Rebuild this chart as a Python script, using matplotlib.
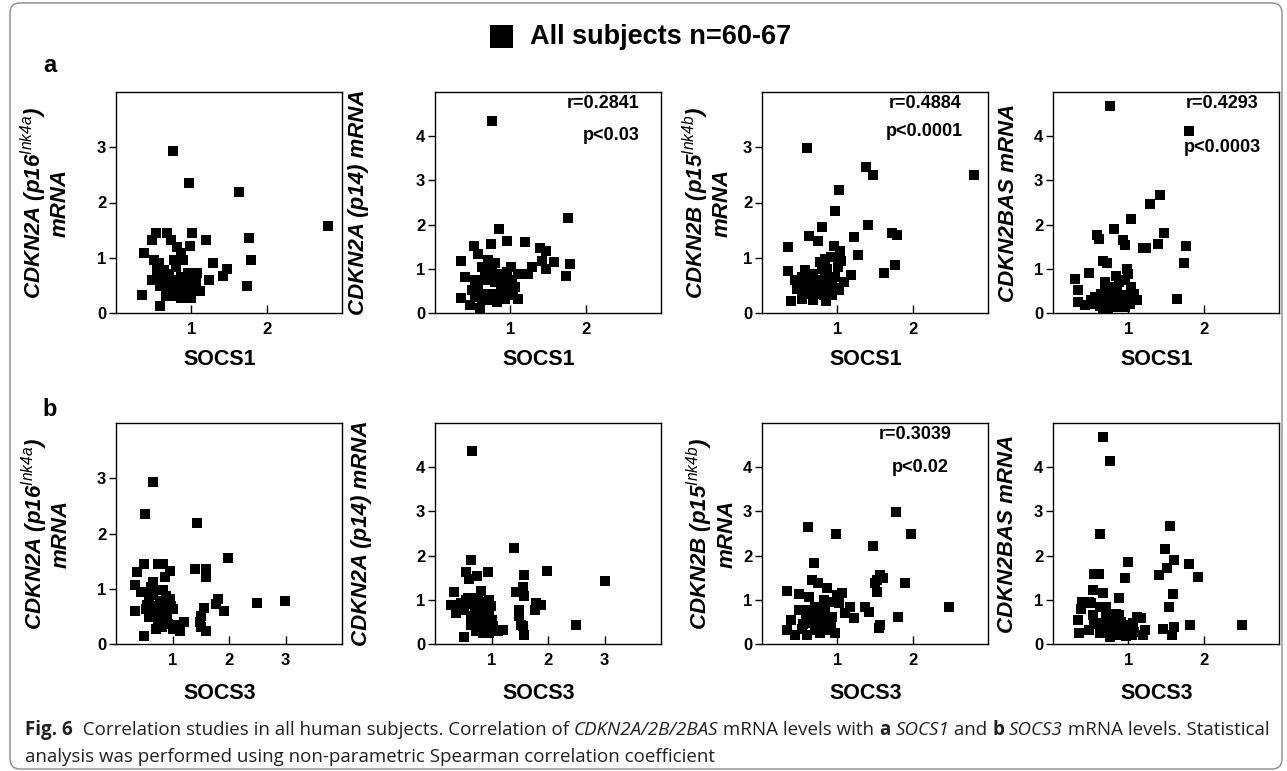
import numpy as np
import matplotlib
matplotlib.use("Agg")
import matplotlib.pyplot as plt
from matplotlib.patches import FancyBboxPatch, Rectangle
from matplotlib.transforms import IdentityTransform

plt.rcParams['font.family'] = ['Liberation Sans', 'DejaVu Sans']
plt.rcParams['mathtext.fontset'] = 'custom'
plt.rcParams['mathtext.it'] = 'Liberation Sans:italic'
plt.rcParams['mathtext.rm'] = 'Liberation Sans:italic'

# ---- data: (SOCS, CDKN) pairs per panel ----
a_socs1_p16 = [
    (0.76, 2.93), (0.97, 2.36), (1.63, 2.19), (1.76, 1.35), (1.79, 0.96), (1.74, 0.48),
    (1.01, 1.45), (1.20, 1.32), (0.98, 1.22), (1.29, 0.90), (1.48, 0.79), (1.42, 0.67),
    (1.23, 0.60), (1.11, 0.40), (1.00, 0.28), (0.35, 0.33), (0.59, 0.13), (0.37, 1.09),
    (0.48, 1.32), (0.53, 1.44), (0.68, 1.44), (0.73, 1.32), (0.81, 1.20), (0.86, 1.08),
    (0.89, 0.96), (0.79, 0.84), (0.51, 0.96), (0.55, 0.84), (0.48, 0.60), (0.55, 0.72),
    (0.64, 0.78), (0.68, 0.60), (0.59, 0.48), (0.77, 0.42), (0.73, 0.30), (0.86, 0.27),
    (0.81, 0.42), (0.93, 0.42), (0.97, 0.60), (1.04, 0.72), (1.08, 0.72), (0.95, 0.72),
    (0.86, 0.66), (0.77, 0.60), (0.68, 0.42), (0.93, 0.48), (1.06, 0.57), (0.86, 0.48),
    (1.01, 0.39), (0.66, 0.30), (0.59, 0.66), (0.57, 0.90), (0.77, 0.96), (2.81, 1.57),
    (0.62, 0.55), (0.83, 0.35), (0.90, 0.55), (0.70, 0.70), (0.95, 0.30), (1.05, 0.50),
]
a_socs1_p14 = [
    (0.76, 4.34), (1.77, 2.16), (0.85, 1.89), (0.96, 1.64), (1.19, 1.61), (0.74, 1.57),
    (0.52, 1.52), (1.39, 1.46), (1.48, 1.40), (1.42, 1.17), (1.58, 1.15), (1.79, 1.10),
    (1.48, 1.00), (1.29, 1.03), (1.23, 0.89), (1.74, 0.84), (1.01, 1.03), (1.10, 0.89),
    (0.35, 1.18), (0.57, 1.34), (0.40, 0.81), (0.35, 0.35), (0.46, 0.19), (0.60, 0.12),
    (1.10, 0.31), (0.71, 1.19), (0.79, 1.12), (0.66, 0.97), (0.53, 0.74), (0.49, 0.51),
    (0.62, 0.74), (0.73, 0.89), (0.84, 0.89), (0.93, 0.81), (1.02, 0.74), (0.97, 0.59),
    (1.04, 0.51), (0.88, 0.51), (0.66, 0.44), (0.71, 0.29), (0.82, 0.25), (0.93, 0.32),
    (0.99, 0.40), (0.60, 0.44), (0.57, 0.59), (0.79, 0.70), (0.71, 0.74), (0.88, 0.66),
    (0.77, 0.44), (0.62, 1.04), (0.75, 1.00), (0.95, 0.93), (1.06, 0.59), (0.86, 0.40),
    (0.53, 0.36), (0.68, 0.82), (0.90, 0.60), (0.63, 0.30),
]
a_socs1_p15 = [
    (0.60, 2.99), (1.38, 2.64), (1.47, 2.50), (1.02, 2.22), (0.97, 1.84), (1.41, 1.60),
    (0.80, 1.55), (0.62, 1.40), (0.74, 1.31), (1.22, 1.37), (1.73, 1.45), (1.79, 1.42),
    (1.28, 1.05), (1.76, 0.86), (1.62, 0.73), (0.34, 1.20), (0.34, 0.76), (0.38, 0.22),
    (0.53, 0.26), (0.68, 0.23), (0.85, 0.22), (0.95, 1.22), (1.04, 1.13), (0.92, 1.01),
    (1.01, 0.83), (0.77, 0.92), (0.84, 0.98), (1.18, 0.69), (1.09, 0.56), (1.02, 0.41),
    (0.93, 0.47), (0.57, 0.77), (0.44, 0.59), (0.46, 0.44), (0.55, 0.53), (0.62, 0.65),
    (0.68, 0.71), (0.75, 0.59), (0.84, 0.65), (0.90, 0.59), (0.84, 0.41), (0.75, 0.35),
    (0.66, 0.35), (0.57, 0.35), (0.77, 0.47), (0.66, 0.53), (0.97, 0.65), (0.86, 0.80),
    (0.71, 0.41), (0.93, 0.32), (0.53, 0.65), (0.82, 0.32), (2.81, 2.50), (0.70, 0.60),
    (0.88, 0.50), (0.62, 0.45), (0.95, 0.45), (0.80, 0.80), (1.05, 0.95),
]
a_socs1_bas = [
    (0.76, 4.68), (1.80, 4.12), (1.42, 2.66), (1.29, 2.46), (1.03, 2.12), (0.81, 1.89),
    (0.59, 1.76), (0.61, 1.68), (0.93, 1.66), (0.96, 1.53), (1.47, 1.82), (1.39, 1.55),
    (1.20, 1.47), (1.24, 1.48), (1.77, 1.52), (1.74, 1.13), (1.64, 0.32), (0.29, 0.76),
    (0.48, 0.91), (0.33, 0.51), (0.67, 1.18), (0.72, 1.12), (0.98, 1.00), (1.00, 0.89),
    (0.84, 0.83), (0.87, 0.70), (0.69, 0.70), (0.96, 0.74), (1.04, 0.59), (1.11, 0.29),
    (0.33, 0.25), (0.42, 0.17), (0.56, 0.36), (0.69, 0.51), (0.67, 0.10), (0.82, 0.14),
    (0.96, 0.14), (0.87, 0.36), (0.78, 0.44), (0.73, 0.29), (1.00, 0.32), (1.07, 0.44),
    (0.51, 0.29), (0.60, 0.25), (0.80, 0.59), (0.64, 0.44), (0.91, 0.25), (0.73, 0.10),
    (0.70, 0.20), (0.85, 0.50), (0.95, 0.40), (0.62, 0.15), (0.78, 0.25), (1.02, 0.20),
    (0.55, 0.20), (0.90, 0.30),
]
b_socs3_p16 = [
    (0.65, 2.93), (0.52, 2.35), (1.43, 2.19), (1.99, 1.56), (2.99, 0.77), (2.49, 0.74),
    (0.49, 1.45), (0.37, 1.31), (0.34, 1.07), (0.44, 0.95), (0.33, 0.60), (0.50, 0.15),
    (0.70, 0.27), (0.74, 1.45), (0.84, 1.45), (0.95, 1.33), (0.87, 1.21), (0.65, 1.12),
    (0.65, 0.94), (0.83, 0.97), (0.95, 0.81), (0.98, 0.69), (0.77, 0.78), (0.59, 0.78),
    (0.53, 0.63), (0.68, 0.63), (0.71, 0.48), (0.86, 0.51), (0.92, 0.36), (1.01, 0.27),
    (1.13, 0.24), (1.21, 0.39), (0.71, 0.69), (0.77, 0.60), (0.89, 0.63), (1.39, 1.35),
    (1.59, 1.36), (1.60, 1.21), (1.81, 0.81), (1.77, 0.72), (1.91, 0.60), (1.55, 0.66),
    (1.51, 0.51), (1.48, 0.39), (1.51, 0.30), (1.60, 0.24), (0.59, 0.48), (0.83, 0.45),
    (0.65, 0.51), (1.01, 0.63), (0.89, 0.87), (0.62, 1.03), (0.71, 0.97), (0.80, 0.69),
    (0.75, 0.40), (0.90, 0.55), (0.55, 0.70), (1.05, 0.35), (0.60, 0.88), (0.82, 0.30),
]
b_socs3_p14 = [
    (0.65, 4.36), (1.39, 2.17), (0.64, 1.91), (0.54, 1.64), (0.61, 1.48), (0.74, 1.53),
    (0.94, 1.62), (1.58, 1.57), (1.98, 1.66), (3.00, 1.42), (2.50, 0.44), (0.33, 1.18),
    (0.29, 0.89), (0.37, 0.70), (0.51, 0.16), (0.46, 0.93), (0.58, 1.04), (0.81, 1.21),
    (0.76, 1.04), (0.96, 1.00), (0.99, 0.85), (0.87, 0.85), (0.70, 0.85), (0.52, 0.78),
    (0.64, 0.63), (0.78, 0.70), (0.90, 0.66), (0.81, 0.55), (0.64, 0.44), (0.76, 0.36),
    (0.85, 0.25), (0.96, 0.26), (1.11, 0.29), (1.21, 0.32), (1.02, 0.40), (1.43, 1.17),
    (1.55, 1.30), (1.58, 1.09), (1.49, 0.63), (1.52, 0.44), (1.58, 0.21), (1.79, 0.93),
    (1.88, 0.89), (1.77, 0.76), (1.49, 0.78), (1.55, 0.40), (0.87, 0.47), (0.70, 0.63),
    (0.46, 0.78), (0.73, 0.29), (0.90, 0.96), (0.60, 0.90), (0.80, 0.80), (0.95, 0.70),
    (0.68, 0.50), (1.00, 0.55), (0.55, 1.00), (0.85, 0.95), (0.90, 0.60),
]
b_socs3_p15 = [
    (1.78, 2.99), (1.98, 2.50), (0.61, 2.64), (0.98, 2.50), (1.47, 2.22), (0.69, 1.84),
    (0.67, 1.45), (0.74, 1.37), (1.56, 1.56), (1.50, 1.37), (1.90, 1.37), (1.53, 1.18),
    (0.33, 1.20), (0.49, 1.12), (2.48, 0.84), (1.06, 1.15), (0.86, 1.26), (0.62, 1.06),
    (0.95, 0.96), (1.17, 0.84), (1.22, 0.58), (1.02, 0.92), (0.38, 0.54), (0.33, 0.32),
    (0.49, 0.77), (0.58, 0.54), (0.44, 0.20), (0.60, 0.20), (0.71, 0.32), (0.84, 0.47),
    (0.93, 0.62), (0.97, 0.24), (0.75, 0.69), (0.84, 0.77), (0.71, 0.84), (0.62, 0.77),
    (0.66, 0.47), (0.86, 0.32), (0.77, 0.24), (0.91, 0.47), (0.75, 0.47), (0.53, 0.35),
    (1.52, 1.45), (1.37, 0.84), (1.42, 0.73), (1.81, 0.62), (1.57, 0.43), (1.55, 0.36),
    (1.60, 1.50), (1.00, 1.10), (0.80, 0.60), (0.68, 0.60), (0.90, 0.35), (0.55, 0.45),
    (1.10, 0.70), (0.82, 1.00),
]
b_socs3_bas = [
    (0.66, 4.69), (0.75, 4.14), (0.62, 2.50), (1.55, 2.68), (1.49, 2.16), (1.60, 1.91),
    (1.80, 1.80), (1.92, 1.52), (1.51, 1.71), (1.41, 1.56), (1.00, 1.86), (0.96, 1.50),
    (1.59, 1.12), (1.54, 0.83), (1.46, 0.35), (1.60, 0.39), (1.58, 0.20), (1.82, 0.44),
    (2.51, 0.44), (0.55, 1.59), (0.61, 1.58), (0.53, 1.22), (0.67, 1.16), (0.88, 1.05),
    (0.38, 0.95), (0.37, 0.80), (0.48, 0.95), (0.33, 0.54), (0.35, 0.26), (0.53, 0.65),
    (0.63, 0.84), (0.71, 0.69), (0.79, 0.62), (0.88, 0.65), (0.79, 0.43), (0.71, 0.32),
    (0.84, 0.20), (0.97, 0.17), (1.00, 0.35), (1.06, 0.47), (1.17, 0.58), (1.22, 0.32),
    (1.20, 0.20), (0.48, 0.32), (0.62, 0.24), (0.62, 0.47), (0.73, 0.54), (0.93, 0.43),
    (1.08, 0.28), (0.88, 0.32), (0.50, 0.92), (0.71, 0.83), (0.84, 0.69), (1.11, 0.62),
    (0.90, 0.50), (0.55, 0.45), (1.05, 0.20), (0.75, 0.15),
]

panel_data = [[a_socs1_p16, a_socs1_p14, a_socs1_p15, a_socs1_bas],
              [b_socs3_p16, b_socs3_p14, b_socs3_p15, b_socs3_bas]]

row_letters = ['a', 'b']
x_names = ['SOCS1', 'SOCS3']
y_names = [r'CDKN2A (p16$^{Ink4a}$)' + '\nmRNA',
           'CDKN2A (p14) mRNA',
           r'CDKN2B (p15$^{Ink4b}$)' + '\nmRNA',
           'CDKN2BAS mRNA']
x_max = [[3, 3, 3, 3], [4, 4, 3, 3]]
y_max = [[4, 5, 4, 5], [4, 5, 5, 5]]
stats = {(0, 1): ('r=0.2841', 'p<0.03'),
         (0, 2): ('r=0.4884', 'p<0.0001'),
         (0, 3): ('r=0.4293', 'p<0.0003'),
         (1, 2): ('r=0.3039', 'p<0.02')}
legend_label = 'All subjects n=60-67'

# ---- layout (pixels) ----
W, H = 1287, 771
col_left = [116, 435, 762, 1053]
row_bottom = [313, 644]
ax_w, ax_h = 226, 221
ylab_x = [[-0.20, -0.29, -0.13, -0.15], [-0.195, -0.28, -0.11, -0.155]]
xlab_y = [-0.163, -0.176]
stat_pos = {(0, 1): [(0.745, 0.95), (0.78, 0.805)],
            (0, 2): [(0.72, 0.95), (0.72, 0.82)],
            (0, 3): [(0.747, 0.95), (0.75, 0.75)],
            (1, 2): [(0.68, 0.95), (0.70, 0.80)]}

fig = plt.figure(figsize=(W / 100, H / 100), dpi=100)

for r in range(2):
    for c in range(4):
        ax = fig.add_axes([col_left[c] / W, (H - row_bottom[r]) / H, ax_w / W, ax_h / H])
        pts = np.array(panel_data[r][c])
        ax.scatter(pts[:, 0], pts[:, 1], marker='s', s=46, c='black', linewidths=0, zorder=3)
        ax.set_xlim(0, x_max[r][c])
        ax.set_ylim(0, y_max[r][c])
        xt = list(range(1, x_max[r][c]))
        yt = list(range(0, y_max[r][c]))
        ax.set_xticks(xt, [str(t) for t in xt], fontweight='bold', fontsize=12)
        ax.set_yticks(yt, [str(t) for t in yt], fontweight='bold', fontsize=12)
        ax.tick_params(axis='x', direction='in', length=6, width=1, pad=6.5)
        ax.tick_params(axis='y', direction='out', length=5, width=1, pad=2)
        for sp in ax.spines.values():
            sp.set_linewidth(1.0)
        ax.set_xlabel(x_names[r], fontsize=15.5, fontweight='bold')
        ax.xaxis.label.set_va('top')
        ax.xaxis.set_label_coords(0.46, xlab_y[r])
        ax.set_ylabel(y_names[c], fontsize=16, fontweight='bold', fontstyle='italic',
                      linespacing=1.05)
        ax.yaxis.label.set(ha='right', va='center', rotation_mode='default',
                           multialignment='center')
        ax.yaxis.set_label_coords(ylab_x[r][c], 0.5)
        if (r, c) in stats:
            for txt, (px, py) in zip(stats[(r, c)], stat_pos[(r, c)]):
                ax.text(px, py, txt, transform=ax.transAxes, ha='center', va='center',
                        fontsize=13, fontweight='bold')

# panel letters
fig.text(50 / W, 1 - 65 / H, row_letters[0], fontsize=17, fontweight='bold', ha='center', va='center')
fig.text(50 / W, 1 - 410 / H, row_letters[1], fontsize=17, fontweight='bold', ha='center', va='center')

# legend marker and text
fig.add_artist(Rectangle((490 / W, 1 - 48 / H), 23 / W, 23 / H, transform=fig.transFigure,
                         facecolor='black', edgecolor='none'))
fig.text(530 / W, 1 - 37 / H, legend_label, fontsize=19.5, fontweight='bold', va='center')

# caption
cap_col = '#231f20'
cap_font = 'Open Sans'
line1 = [('Fig. 6', 'bold', 'normal'),
         ('  Correlation studies in all human subjects. Correlation of ', 'normal', 'normal'),
         ('CDKN2A/2B/2BAS', 'normal', 'italic'),
         (' mRNA levels with ', 'normal', 'normal'),
         ('a', 'bold', 'normal'), (' ', 'normal', 'normal'),
         ('SOCS1', 'normal', 'italic'),
         (' and ', 'normal', 'normal'),
         ('b', 'bold', 'normal'), (' ', 'normal', 'normal'),
         ('SOCS3', 'normal', 'italic'),
         (' mRNA levels. Statistical', 'normal', 'normal')]
line2 = [('analysis was performed using non-parametric Spearman correlation coefficient',
          'normal', 'normal')]

renderer = fig.canvas.get_renderer()


def draw_runs(runs, x, y):
    for txt, wt, st in runs:
        t = fig.text(x, y, txt, fontsize=13.5, fontweight=wt, fontstyle=st,
                     family=cap_font, color=cap_col, va='baseline')
        x += t.get_window_extent(renderer).width / W


draw_runs(line1, 25 / W, (H - 735) / H)
draw_runs(line2, 25 / W, (H - 762) / H)

# outer rounded frame
fig.add_artist(FancyBboxPatch((10, 2), 1272, 766, boxstyle='round,pad=0,rounding_size=10',
                              transform=IdentityTransform(), fill=False,
                              edgecolor='#8a8a8a', linewidth=1.0))

fig.savefig('out.png', dpi=100)
